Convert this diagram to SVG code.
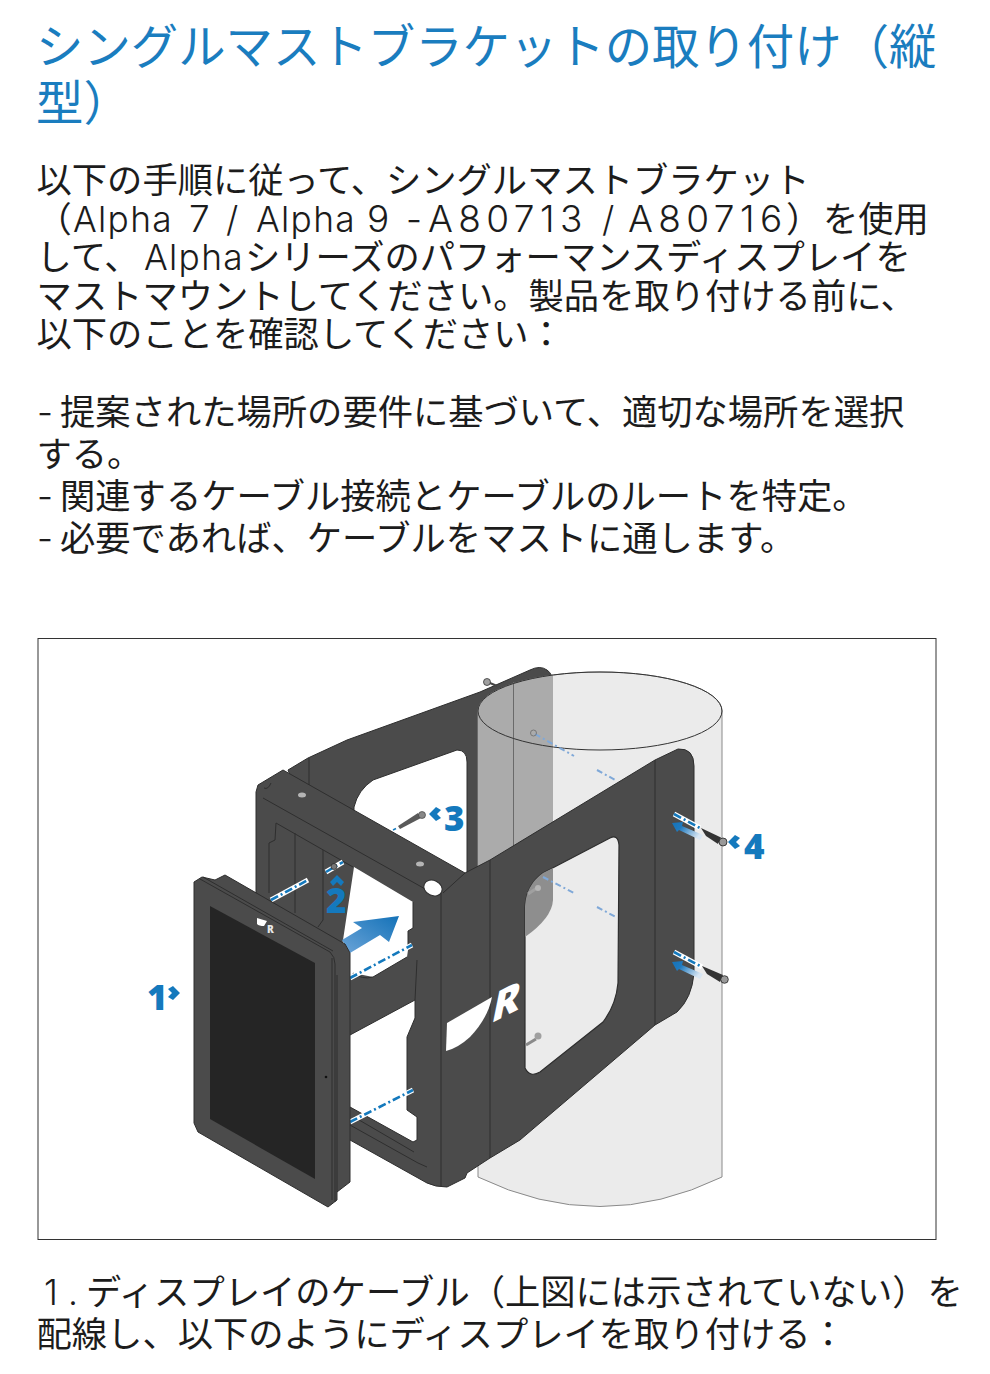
<svg xmlns="http://www.w3.org/2000/svg" width="990" height="1374" viewBox="0 0 990 1374">
<style>
text{font-family:"Noto Sans CJK JP","Noto Sans",sans-serif;white-space:pre}
.h{font-size:47.4px;fill:#1a7dbf;font-weight:400}
.b{font-size:35.3px;fill:#1c1c1c;font-weight:400}
.la{font-family:Inter,"Liberation Sans",sans-serif;font-weight:300;letter-spacing:1.3px}
.dg{font-family:Inter,"Liberation Sans",sans-serif;font-weight:300;font-size:37px;letter-spacing:5.400px}
.n{font-family:"Open Sans","Liberation Sans",sans-serif;font-size:35px;font-weight:800;fill:#1479bd}
.d{fill:#4b4b4b;stroke:#2e2e2e;stroke-width:1;stroke-linejoin:round}
.l{fill:none;stroke:#2e2e2e;stroke-width:1}
.u{stroke:#fff;stroke-width:5;fill:none}
.a{stroke:#1479bd;stroke-width:2.6;stroke-dasharray:8 3 2 3;fill:none}
.f{stroke:#7fa8d8;stroke-width:2;stroke-dasharray:6 3 2 3;fill:none}
.c{fill:#1479bd}
.w{fill:#fff}
.t{fill:#333}
.g{fill:#999;stroke:#222;stroke-width:.8}
</style>
<defs>
<linearGradient id="ga" x1="1" y1="0" x2="0" y2="1"><stop offset="0" stop-color="#1472b8"/><stop offset="1" stop-color="#6ba4d8"/></linearGradient>
<linearGradient id="gb" x1="0" y1="0" x2="1" y2=".5"><stop offset="0" stop-color="#1472b8"/><stop offset=".35" stop-color="#1f7abf"/><stop offset="1" stop-color="#d8e6f3"/></linearGradient>
</defs>
<g id="heading">
<text class="h" x="36" y="64">シングルマストブラケットの取り付け（縦</text>
<text class="h" x="36" y="120">型）</text>
</g>
<g id="intro">
<text class="b" x="36.500" y="193">以下の手順に従って、シングルマストブラケット</text>
<text class="b" x="36.500" y="232">（<tspan class="la" x="73">Alpha</tspan><tspan class="dg" x="189">7</tspan><tspan class="la" x="226">/</tspan><tspan class="la" x="256">Alpha</tspan><tspan class="dg" x="367">9</tspan><tspan class="la" x="406">-</tspan><tspan class="dg" x="428">A80713</tspan><tspan class="la" x="602">/</tspan><tspan class="dg" x="628">A80716</tspan><tspan x="786">）</tspan><tspan x="823">を使用</tspan></text>
<text class="b" x="36.500" y="270">して、<tspan class="la" x="144">Alpha</tspan><tspan x="245">シリーズのパフォーマンスディスプレイを</tspan></text>
<text class="b" x="36.500" y="309">マストマウントしてください。製品を取り付ける前に、</text>
<text class="b" x="36.500" y="347">以下のことを確認してください：</text>
<text class="b" y="425"><tspan class="la" x="37">-</tspan><tspan x="60">提案された場所の要件に基づいて、適切な場所を選択</tspan></text>
<text class="b" x="36.500" y="467">する。</text>
<text class="b" y="509"><tspan class="la" x="37">-</tspan><tspan x="60">関連するケーブル接続とケーブルのルートを特定。</tspan></text>
<text class="b" y="551"><tspan class="la" x="37">-</tspan><tspan x="60">必要であれば、ケーブルをマストに通します。</tspan></text>
</g>
<g id="figure">
<rect x="38" y="638.500" width="898" height="601" fill="#fff" stroke="#333" stroke-width="1"/>
<path id="back-plate" class="d" d="M288 770L308 758L347 740L480 692L530 670Q540 665 547 670Q553 674 553 684L553 900L478 900L478 880L467 873L467 762Q467 750 457 750L373 780Q358 790 354 807L354 830L300 800Z"/>
<g id="mast">
<path d="M478 711A122 39 0 0 1 722 711L722 1177Q600 1236 478 1177Z" fill="#ebebeb" stroke="#8a8a8a" stroke-width="1"/>
<path d="M478 711A122 39 0 0 1 553 675L553 900Q552 918 525 937L478 960Z" fill="#ababab"/>
<path d="M513.500 682L513.500 850" stroke="#6a6a6a" stroke-width="1"/>
<ellipse cx="600" cy="711" rx="122" ry="39" fill="none" stroke="#333" stroke-width="1"/>
<path class="f" d="M535 734L574 756M597 770L617 781"/>
<circle cx="533.500" cy="733" r="3" fill="none" stroke="#777"/>
</g>
<g id="bracket-front">
<path class="d" d="M256 792L258 785L263 782L283 770L465 873L490 860L655 760L678 749Q694 748 694 766L694 973Q692 998 677 1012L655 1025L520 1140L490 1158L467 1173L465 1178L447 1187Q435 1187 427 1183L350 1140L300 1100L256 900Z"/>
<path d="M354 867L413 902L413 928L408 931L408 950L407 957L373 977L353 973L350 978L340 960Z" class="w"/>
<path d="M350 1035L415 1000L415 1018L407 1037L407 1110L417 1117L417 1140L413 1142L350 1107Z" class="w"/>
<path class="l" d="M407 957L373 977Q362 980 353 973M350 1035L415 1000M350 1107L413 1142L417 1140L417 1117L407 1110L407 1037L415 1018L415 1000M417 960L415 1000M350 1125L418 1163L427 1167M354 1117L414 1152"/>
<path class="l" d="M263 798L427 890M264 788Q268 790 271 783M276 823L353 867M276 823L275 840L269 843L269 893M295 833L295 913M323 850L323 920L318 927M309 758L309 785M413 902L413 928L408 931L408 950"/>
<path d="M543 873L610 838Q618 834 619 845L618 983Q616 1005 603 1022L540 1072Q530 1078 525 1068L525 907Q526 885 543 873Z" fill="#ebebeb" stroke="#2e2e2e" stroke-width="1.200"/>
<path d="M525 907Q526 885 543 873L553 868L553 900Q552 918 525 937Z" fill="#8e8e8e"/>
<path class="f" d="M543 877L574 893M597 907L616 917"/>
<path d="M526 1045L536 1039" stroke="#8a8a8a" stroke-width="3"/><circle cx="538" cy="1036" r="3.500" fill="#a0a0a0"/>
<path d="M528 894L537 888" stroke="#a0a0a0" stroke-width="3"/><circle cx="538" cy="888" r="3" fill="#b5b5b5"/>
<path class="l" d="M441 893L441 1186M490 860L490 1158M655 760L655 1025M443 893L465 873"/>
<ellipse cx="433" cy="888" rx="9.500" ry="7.500" transform="rotate(25 433 888)" fill="#fff" stroke="#2e2e2e" stroke-width="1"/>
<ellipse cx="302" cy="795" rx="4" ry="2.500" fill="#b5b5b5"/>
<ellipse cx="420" cy="864" rx="4" ry="2.500" fill="#b5b5b5"/>
<path d="M447 1023L492 997Q488 1018 470 1037Q458 1048 446 1051Z" class="w"/>
<text transform="matrix(.93 -.48 -.2 1 490 1024)" font-size="44" font-weight="800" fill="#fff" style="font-family:'Open Sans',sans-serif">R</text>
</g>
<g id="back-screw">
<path d="M490 683L497 686" stroke="#444" stroke-width="2"/><circle cx="487" cy="682" r="3.500" fill="#a0a0a0" stroke="#222" stroke-width=".7"/>
</g>
<g id="screw-3">
<path d="M398 826L418 813L421 818L400 829Z" fill="#5a5a5a"/><circle cx="422" cy="815" r="3.500" fill="#888" stroke="#333" stroke-width=".6"/>
<path d="M393 830L396 828.500" stroke="#1479bd" stroke-width="1.500"/>
</g>
<g id="screw-4">
<path d="M672 823L683 822L682 826L703 835L700 840L679 830L677 832Z" fill="url(#gb)"/>
<path class="u" d="M674 814L700 828"/><path class="a" d="M674 814L700 828"/>
<path class="t" d="M701 828L721 837.500L718 844L706 836Z"/><circle class="g" cx="723" cy="842" r="4"/>
</g>
<g id="screw-5">
<path d="M672 962L683 961L682 965L703 974L700 979L679 969L677 971Z" fill="url(#gb)"/>
<path class="u" d="M674 952L702 967"/><path class="a" d="M674 952L702 967"/>
<path class="t" d="M702 966L723 975L720 982L707 974Z"/><circle class="g" cx="724.500" cy="979.500" r="3.800"/>
</g>
<g id="fixing-lines">
<path class="u" d="M271 900L308 880"/><path class="a" d="M271 900L308 880"/>
<path class="u" d="M326 872L343 862"/><path class="a" d="M326 872L343 862"/>
<circle cx="334" cy="866.500" r="3" fill="#777" stroke="#222" stroke-width=".7"/>
<path class="u" d="M350 978L412 945"/><path class="a" d="M350 978L412 945"/>
<path class="u" d="M350 1122L413 1090"/><path class="a" d="M350 1122L413 1090"/>
</g>
<g id="move-arrow">
<path d="M399 916L353 922L362 928L342 940L350 953L380 935L389 942Z" fill="url(#ga)"/>
</g>
<g id="display">
<path class="d" d="M194 882L202 877L215 880L225 875L345 944L350 953L350 1182L337 1192L337 1200L328 1207L198 1132L194 1123Z"/>
<path d="M210 906L315 963L315 1179L210 1119Z" fill="#252525"/>
<path class="l" d="M200 879L330 952Q335 957 335 964L335 1202M332 958L332 1200M337 975L337 1192M203 877L333 951"/>
<path d="M257 918L267 921L264 926Q259 926 257 924Z" class="w"/>
<text x="267" y="933" font-size="10" font-weight="800" fill="#e8e8e8" style="font-family:'Open Sans',sans-serif">R</text>
<circle cx="326" cy="1077" r="1.300" fill="#111"/>
</g>
<g id="labels">
<text class="n" x="444" y="831">3</text>
<path class="c" d="M429 814L436 807L441 810L437 814L441 818L436 821Z"/>
<text class="n" x="326" y="913">2</text>
<path class="c" d="M330 882L337 875L344 882L341 886L337 882L333 886Z"/>
<text class="n" x="744" y="859">4</text>
<path class="c" d="M728 842L735 835L740 838L736 842L740 846L735 849Z"/>
<text class="n" x="147" y="1010">1</text>
<path class="c" d="M180 993L173 986L168 989L172 993L168 997L173 1000Z"/>
</g>
</g>
<g id="step">
<text class="b" y="1305"><tspan class="la" x="44" style="letter-spacing:10px">1.</tspan><tspan x="86">ディスプレイのケーブル（上図には示されていない）を</tspan></text>
<text class="b" x="36.500" y="1347">配線し、以下のようにディスプレイを取り付ける：</text>
</g>
</svg>
